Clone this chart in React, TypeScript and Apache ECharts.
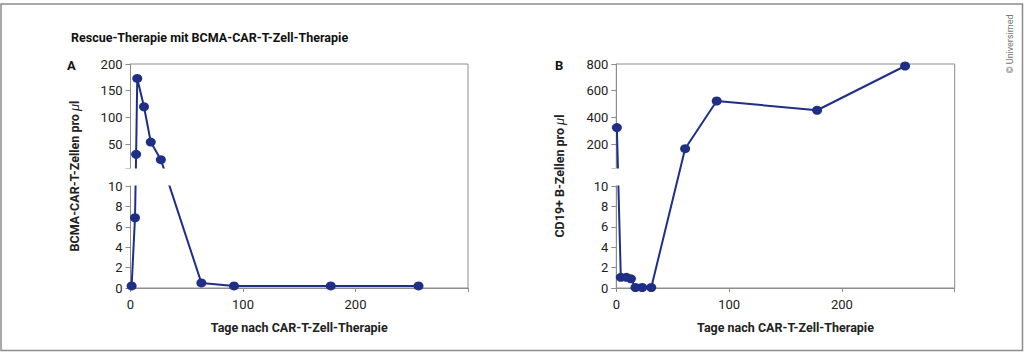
import React, { useEffect, useRef } from "react";
import * as echarts from "echarts";

// ---- Data ----
const DAYS_A = [1, 4, 5, 6, 12, 18, 27, 63, 92, 178, 256];
const VALUES_A = [0.2, 6.9, 31, 173, 120, 54, 21, 0.5, 0.2, 0.2, 0.2];
const DAYS_B = [0.5, 4, 9, 13, 17, 23, 31, 61, 89, 178, 256];
const VALUES_B = [324, 1.05, 1.05, 0.9, 0.05, 0.05, 0.05, 166, 523, 454, 785];

const LOW_TICKS = [0, 2, 4, 6, 8, 10];
const TOP_TICKS_A = [50, 100, 150, 200];
const TOP_TICKS_B = [200, 400, 600, 800];
const X_LABELS = [0, 100, 200];

const TITLE = "Rescue-Therapie mit BCMA-CAR-T-Zell-Therapie";
const X_NAME = "Tage nach CAR-T-Zell-Therapie";
const Y_NAME_A = "BCMA-CAR-T-Zellen pro {i|\u03bc}l";
const Y_NAME_B = "CD19+ B-Zellen pro {i|\u03bc}l";

// ---- Broken-axis scale (lower part 0-10, upper part compressed) ----
const LOW_MAX = 10;
const TOP_BASE = 11.5;
const U_MAX = 22;
const TOP_SEG_START = 11.8;
const toU = (v: number, topMax: number) =>
  v <= LOW_MAX ? v : TOP_BASE + (v * (U_MAX - TOP_BASE)) / topMax;

const FONT = "Roboto";
const LINE = "#1f2f86";
const AXIS = "#8c8c8c";
const TEXT = "#222";

function yAxisFor(gridIndex: number, topTicks: number[], topMax: number, name: string, nameGap: number) {
  const labelMap = new Map<number, string>();
  LOW_TICKS.forEach((t) => labelMap.set(t, String(t)));
  topTicks.forEach((t) => labelMap.set(toU(t, topMax), String(t)));
  const labelVals = Array.from(labelMap.keys());
  return {
    gridIndex,
    type: "value",
    min: 0,
    max: U_MAX,
    axisLine: { show: true, lineStyle: { color: AXIS, width: 1 } },
    axisTick: {
      show: true,
      length: 5,
      customValues: [...labelVals, TOP_SEG_START],
      lineStyle: { color: AXIS },
    },
    axisLabel: {
      customValues: labelVals,
      color: TEXT,
      fontSize: 13,
      fontFamily: FONT,
      margin: 8,
      formatter: (val: number) => {
        for (const [k, s] of labelMap) if (Math.abs(k - val) < 1e-6) return s;
        return "";
      },
    },
    splitLine: { show: false },
    name,
    nameLocation: "middle",
    nameGap,
    nameRotate: 90,
    nameTextStyle: {
      color: TEXT,
      fontSize: 12.5,
      fontWeight: "bold",
      fontFamily: FONT,
      rich: {
        i: { fontStyle: "italic", fontWeight: "normal", fontSize: 13, fontFamily: FONT, color: TEXT },
      },
    },
  };
}

function xAxisFor(gridIndex: number) {
  return {
    gridIndex,
    type: "value",
    min: 0,
    max: 300,
    interval: 100,
    axisLine: { show: true, lineStyle: { color: AXIS, width: 1 } },
    axisTick: { show: true, length: 4, lineStyle: { color: AXIS } },
    axisLabel: {
      color: TEXT,
      fontSize: 13,
      fontFamily: FONT,
      margin: 10,
      formatter: (v: number) => (X_LABELS.includes(v) ? String(v) : ""),
    },
    splitLine: { show: false },
    name: X_NAME,
    nameLocation: "middle",
    nameGap: 33,
    nameTextStyle: { color: TEXT, fontSize: 12.5, fontWeight: "bold", fontFamily: FONT },
  };
}

function seriesFor(idx: number, days: number[], values: number[], topMax: number) {
  return {
    type: "line",
    xAxisIndex: idx,
    yAxisIndex: idx,
    data: days.map((d, i) => [d, toU(values[i], topMax)]),
    symbol: "circle",
    symbolSize: [10, 9],
    itemStyle: { color: LINE },
    lineStyle: { color: LINE, width: 2 },
    clip: false,
    z: 3,
  };
}

export default function App() {
  const ref = useRef<HTMLDivElement>(null);
  useEffect(() => {
    if (!ref.current) return;
    const chart = echarts.init(ref.current, null, { renderer: "svg" });
    const gridA = { left: 130.5, top: 64, width: 337.5, height: 224 };
    const gridB = { left: 616.3, top: 64, width: 338.4, height: 224 };
    const gridStyle = { show: true, borderColor: AXIS, borderWidth: 1, backgroundColor: "transparent" };
    chart.setOption({
      animation: false,
      backgroundColor: "#fff",
      title: {
        text: TITLE,
        left: 66,
        top: 26,
        textStyle: { fontSize: 12.5, fontWeight: "bold", fontFamily: FONT, color: "#111" },
      },
      grid: [
        { ...gridA, ...gridStyle },
        { ...gridB, ...gridStyle },
      ],
      xAxis: [xAxisFor(0), xAxisFor(1)],
      yAxis: [
        yAxisFor(0, TOP_TICKS_A, 200, Y_NAME_A, 50),
        yAxisFor(1, TOP_TICKS_B, 800, Y_NAME_B, 50),
      ],
      series: [seriesFor(0, DAYS_A, VALUES_A, 200), seriesFor(1, DAYS_B, VALUES_B, 800)],
      graphic: [
        {
          type: "rect",
          z: 100,
          shape: { x: 124, y: 168.6, width: 52, height: 16.8 },
          style: { fill: "#fff" },
        },
        {
          type: "rect",
          z: 100,
          shape: { x: 610, y: 168.6, width: 50, height: 16.8 },
          style: { fill: "#fff" },
        },
        {
          type: "rect",
          z: 101,
          shape: { x: 1, y: 4, width: 1021.5, height: 346.5 },
          style: { fill: "none", stroke: AXIS, lineWidth: 1.5 },
        },
        {
          type: "text",
          z: 101,
          x: 67,
          y: 65,
          style: { text: "A", fontSize: 13, fontWeight: "bold", fontFamily: FONT, fill: "#111", verticalAlign: "middle" },
        },
        {
          type: "text",
          z: 101,
          x: 555,
          y: 65,
          style: { text: "B", fontSize: 13, fontWeight: "bold", fontFamily: FONT, fill: "#111", verticalAlign: "middle" },
        },
        {
          type: "text",
          z: 101,
          x: 1010,
          y: 44,
          rotation: Math.PI / 2,
          style: {
            text: "\u00a9 Universimed",
            fontSize: 9,
            fontFamily: FONT,
            fill: "#777",
            align: "center",
            verticalAlign: "middle",
          },
        },
      ],
    });
    return () => chart.dispose();
  }, []);
  return (
    <div
      ref={ref}
      style={{ position: "fixed", left: 0, top: 0, width: 1024, height: 353, background: "#fff" }}
    />
  );
}
